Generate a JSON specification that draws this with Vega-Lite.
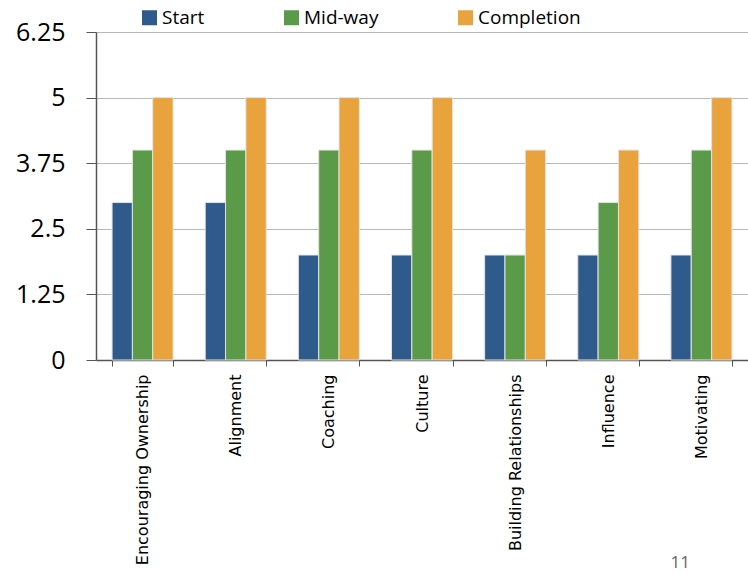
{
  "$schema": "https://vega.github.io/schema/vega-lite/v6.json",
  "autosize": "none",
  "width": 652,
  "height": 328,
  "padding": {"left": 96, "top": 32, "right": 0, "bottom": 213},
  "background": "white",
  "title": {
    "text": "11",
    "orient": "bottom",
    "anchor": "end",
    "dx": -58,
    "offset": -10,
    "fontSize": 17,
    "font": "Open Sans",
    "fontWeight": "normal",
    "color": "#666666"
  },
  "data": {
    "values": [
      {"skill": "Encouraging Ownership", "stage": "Start", "score": 3},
      {"skill": "Encouraging Ownership", "stage": "Mid-way", "score": 4},
      {"skill": "Encouraging Ownership", "stage": "Completion", "score": 5},
      {"skill": "Alignment", "stage": "Start", "score": 3},
      {"skill": "Alignment", "stage": "Mid-way", "score": 4},
      {"skill": "Alignment", "stage": "Completion", "score": 5},
      {"skill": "Coaching", "stage": "Start", "score": 2},
      {"skill": "Coaching", "stage": "Mid-way", "score": 4},
      {"skill": "Coaching", "stage": "Completion", "score": 5},
      {"skill": "Culture", "stage": "Start", "score": 2},
      {"skill": "Culture", "stage": "Mid-way", "score": 4},
      {"skill": "Culture", "stage": "Completion", "score": 5},
      {"skill": "Building Relationships", "stage": "Start", "score": 2},
      {"skill": "Building Relationships", "stage": "Mid-way", "score": 2},
      {"skill": "Building Relationships", "stage": "Completion", "score": 4},
      {"skill": "Influence", "stage": "Start", "score": 2},
      {"skill": "Influence", "stage": "Mid-way", "score": 3},
      {"skill": "Influence", "stage": "Completion", "score": 4},
      {"skill": "Motivating", "stage": "Start", "score": 2},
      {"skill": "Motivating", "stage": "Mid-way", "score": 4},
      {"skill": "Motivating", "stage": "Completion", "score": 5}
    ]
  },
  "mark": {"type": "bar", "stroke": "#e2e2e2", "strokeWidth": 1},
  "encoding": {
    "x": {
      "field": "skill",
      "type": "nominal",
      "sort": null,
      "scale": {"paddingInner": 0.345, "paddingOuter": 0.1725},
      "axis": {
        "title": null,
        "labelAngle": -90,
        "labelAlign": "right",
        "labelBaseline": "middle",
        "labelFontSize": 16,
        "labelFont": "DejaVu Sans",
        "labelColor": "#000000",
        "labelPadding": 8,
        "labelLimit": 300,
        "tickBand": "extent",
        "tickSize": 6,
        "tickColor": "#555555",
        "domainColor": "#555555",
        "domainWidth": 1.5
      }
    },
    "xOffset": {
      "field": "stage",
      "type": "nominal",
      "sort": ["Start", "Mid-way", "Completion"],
      "scale": {"paddingInner": 0, "paddingOuter": 0}
    },
    "y": {
      "field": "score",
      "type": "quantitative",
      "scale": {"domain": [0, 6.25], "nice": false},
      "axis": {
        "title": null,
        "values": [0, 1.25, 2.5, 3.75, 5, 6.25],
        "format": ".2~f",
        "labelFontSize": 25,
        "labelFont": "Open Sans",
        "labelColor": "#000000",
        "labelPadding": 21,
        "tickSize": 10,
        "tickColor": "#555555",
        "domainColor": "#555555",
        "domainWidth": 1.5,
        "gridColor": "#b8b8b8",
        "gridWidth": 1.2
      }
    },
    "color": {
      "field": "stage",
      "type": "nominal",
      "sort": ["Start", "Mid-way", "Completion"],
      "scale": {
        "domain": ["Start", "Mid-way", "Completion"],
        "range": ["#2E5A8C", "#5B9A48", "#E8A33C"]
      },
      "legend": {
        "title": null,
        "orient": "none",
        "legendX": 44,
        "legendY": -24,
        "direction": "horizontal",
        "columns": 3,
        "columnPadding": 77,
        "symbolType": "square",
        "symbolSize": 225,
        "symbolStrokeWidth": 0,
        "labelFontSize": 19,
        "labelFont": "Open Sans",
        "labelColor": "#000000",
        "labelOffset": 3
      }
    }
  },
  "config": {
    "view": {"stroke": null}
  }
}
